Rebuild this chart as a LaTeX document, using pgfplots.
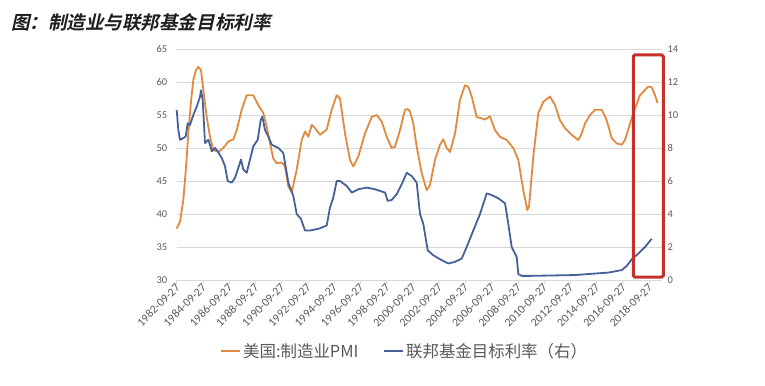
\documentclass[border=0pt]{standalone}
\usepackage{fontspec}
\setmainfont{Carlito}
\newfontfamily\cjk{Noto Sans CJK SC}
\newfontfamily\cjktitle[FakeSlant=0.22]{Noto Sans CJK SC Bold}
\usepackage{pgfplots}
\pgfplotsset{compat=1.18}
\definecolor{pmi}{HTML}{DF8A40}
\definecolor{ffr}{HTML}{46609A}
\definecolor{ticktext}{HTML}{595959}
\definecolor{gridc}{HTML}{D9D9D9}
\definecolor{boxc}{HTML}{C4302B}
\begin{document}
\begin{tikzpicture}
\useasboundingbox (0bp,0bp) rectangle (765bp,386bp);
\node[anchor=west, inner sep=0pt, font=\cjktitle\fontsize{18.6}{21}\selectfont, text=black!88] at (11bp,364bp) {图：制造业与联邦基金目标利率};
\pgfplotsset{
  common/.style={
    at={(176.7bp,106bp)}, anchor=south west, scale only axis,
    width=485.3bp, height=231bp,
    xmin=176.7, xmax=662,
    clip=false,
    /pgf/number format/assume math mode=true,
    tick label style={font=\fontsize{10.5}{12}\selectfont, text=ticktext},
  }
}
\begin{axis}[common,
  ymin=30, ymax=65, ytick={30,35,...,65},
  axis x line*=bottom, axis y line*=left,
  y axis line style={draw=none},
  x axis line style={draw=gridc, line width=0.8bp},
  ymajorgrids, grid style={gridc, line width=0.8bp},
  ytick style={draw=none},
  tick align=outside, major tick length=4bp,
  xtick style={draw=gridc, line width=0.8bp},
  xtick={176.7,202.95,229.2,255.45,281.7,307.95,334.2,360.45,386.7,412.95,439.2,465.45,491.7,517.95,544.2,570.45,596.7,622.95,649.2},
  xticklabels={1982-09-27,1984-09-27,1986-09-27,1988-09-27,1990-09-27,1992-09-27,1994-09-27,1996-09-27,1998-09-27,2000-09-27,2002-09-27,2004-09-27,2006-09-27,2008-09-27,2010-09-27,2012-09-27,2014-09-27,2016-09-27,2018-09-27},
  xticklabel style={rotate=45, anchor=east, xshift=3bp, yshift=-2bp, font=\fontsize{11.8}{13}\selectfont},
  yticklabel style={xshift=-2bp},
]
\addplot[pmi, line width=1.8bp, line join=round] coordinates {
(176.7,37.8) (180,38.8) (183.3,42.1) (186,47) (188.3,52.2) (191,57) (193.3,60.3) (196,61.8) (198.3,62.3) (201,61.8) (203.3,58.8) (206.7,54.7) (210,51.7) (213.3,49.7) (218.3,49.4) (223.3,50.0) (228.3,51.0) (233.3,51.3) (236.7,52.7) (241.7,55.8) (246.7,58.0) (253.3,58.0) (258.3,56.5) (263.3,55.3) (266.7,53.2) (270,50.7) (273.3,48.4) (276.7,47.7) (281.7,47.8) (285,47.2) (288.3,44.2) (291.7,43.3) (296.7,46.7) (301.7,51.2) (305,52.5) (308.3,51.7) (311.7,53.5) (315,53.0) (320,52.0) (326.7,52.8) (331.7,55.8) (336.7,58.0) (340,57.5) (345,52.2) (350,48.2) (353.3,47.2) (358.3,48.7) (365,52.2) (371.7,54.7) (376.7,55.0) (381.7,54.0) (386.7,51.7) (391.7,50.0) (395,50.2) (400,52.7) (405,55.8) (408,55.9) (410,55.5) (413.3,53.7) (416.7,50.2) (421.7,46.2) (426.7,43.6) (430,44.4) (435,48.2) (440,50.5) (443.3,51.3) (446.7,50.0) (450,49.4) (455,52.2) (460,57.3) (465,59.5) (468.3,59.3) (471.7,57.8) (476.7,54.7) (481.7,54.5) (485,54.3) (490,54.8) (495,52.7) (500,51.7) (506.7,51.2) (513.3,50.0) (518.3,48.2) (523.3,43.6) (527.3,40.6) (529,41.1) (533.3,48.7) (538.3,55.3) (543.3,57.0) (550,57.8) (555,56.5) (560,54.2) (565,53.0) (571.7,52.0) (578.3,51.2) (581.7,52.2) (585,53.7) (590,55.0) (595,55.8) (601.7,55.8) (606.7,54.2) (611.7,51.5) (616.7,50.7) (621.7,50.5) (625,51.2) (630,53.7) (635,56.0) (640,58.0) (645,58.8) (648.3,59.3) (651.7,59.2) (655,58.0) (657.7,56.8)
};
\end{axis}
\begin{axis}[common,
  ymin=0, ymax=14, ytick={0,2,...,14},
  axis y line*=right, axis x line=none,
  y axis line style={draw=none},
  ytick style={draw=none},
  yticklabel style={xshift=2bp},
  legend columns=2,
  legend style={at={(axis description cs:0.469,-0.307)}, anchor=center, draw=none, fill=none,
    font=\cjk\fontsize{16.5}{19}\selectfont, text=ticktext,
    nodes={inner xsep=2bp},
    /tikz/every even column/.append style={column sep=22bp}},
  legend image code/.code={\draw[#1] (0bp,0bp) -- (19bp,0bp);},
]
\addlegendimage{pmi, line width=2.6bp}
\addlegendentry{美国:制造业PMI}
\addplot[ffr, line width=1.8bp, line join=round, forget plot] coordinates {
(176.7,10.3) (178.3,9.1) (180,8.5) (183.3,8.6) (185.7,8.7) (187.7,9.5) (190,9.4) (193.3,10.0) (196.7,10.5) (200,11.1) (201,11.5) (202.7,10.9) (205,8.3) (206.7,8.4) (208.3,8.5) (210,8.2) (211.7,7.8) (215,8.0) (217.7,7.8) (221.7,7.4) (225,6.9) (227.7,6.0) (231.7,5.9) (235,6.2) (238.3,6.8) (241,7.3) (243.3,6.7) (246.7,6.5) (250,7.3) (253.3,8.1) (257.7,8.5) (260.7,9.7) (262.3,9.9) (265,9.1) (268.3,8.7) (271.7,8.2) (278.3,8.0) (283.3,7.7) (286.7,6.5) (288.3,5.9) (293.3,5.1) (296.7,4.0) (301,3.7) (305,3.0) (310,3.0) (318.3,3.1) (326.7,3.3) (330,4.4) (333.3,5.0) (336.7,6.0) (340,6.0) (346.7,5.7) (351.7,5.3) (358.3,5.5) (366.7,5.6) (375,5.5) (385,5.3) (387.7,4.8) (391.7,4.85) (396.7,5.2) (401.7,5.8) (406.7,6.5) (411.7,6.3) (416.7,5.9) (420,4.0) (423.3,3.4) (427.7,1.8) (433.3,1.5) (441.7,1.2) (448.3,1.0) (455,1.1) (461.7,1.3) (466.7,2.0) (473.3,3.0) (480,4.0) (486.7,5.25) (491.7,5.15) (498.3,4.95) (505,4.65) (508.3,3.4) (511.7,2.0) (516.7,1.4) (518.3,0.36) (521.7,0.25) (530,0.25) (575,0.3) (608.3,0.45) (621.7,0.6) (626.7,0.85) (631.7,1.25) (638.3,1.6) (645,2.0) (651.7,2.5)
};
\addlegendimage{ffr, line width=2.6bp}
\addlegendentry{联邦基金目标利率（右）}
\draw[boxc, line width=3bp, rounded corners=1.5bp] (axis cs:633.3,13.64) rectangle (axis cs:663.3,0.18);
\end{axis}
\end{tikzpicture}
\end{document}
